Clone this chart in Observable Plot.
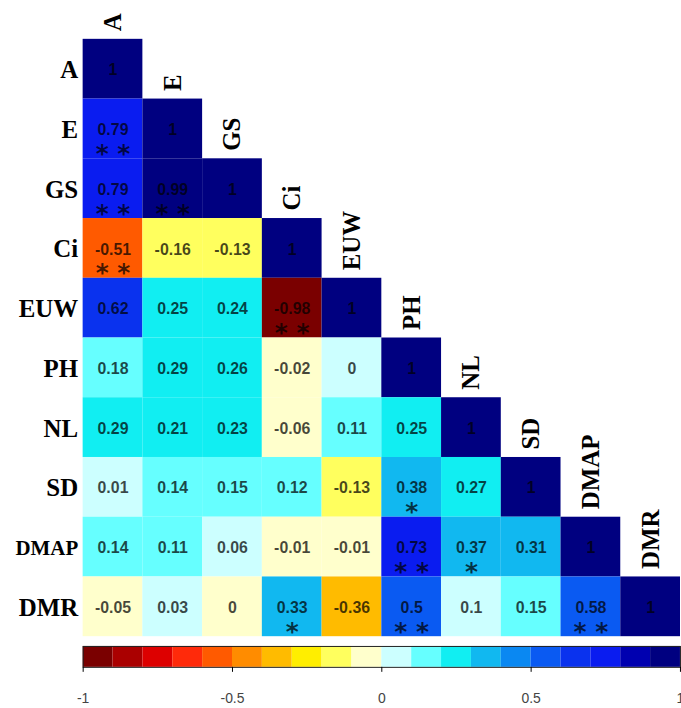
<!DOCTYPE html>
<html>
<head>
<meta charset="utf-8">
<script src="https://cdn.jsdelivr.net/npm/d3@7"></script>
<script src="https://cdn.jsdelivr.net/npm/@observablehq/plot@0.6"></script>
<style>
html, body { margin: 0; padding: 0; background: #fff; }
#wrap { width: 681px; height: 708px; overflow: hidden; background: #fff; }
#wrap svg { display: block; }
</style>
</head>
<body>
<div id="wrap"></div>
<script>
// Variables (row and column order)
const vars = ["A", "E", "GS", "Ci", "EUW", "PH", "NL", "SD", "DMAP", "DMR"];

// Lower-triangle correlations, one list per row (columns before the diagonal)
const corrA    = [];
const corrE    = [0.79];
const corrGS   = [0.79, 0.99];
const corrCi   = [-0.51, -0.16, -0.13];
const corrEUW  = [0.62, 0.25, 0.24, -0.98];
const corrPH   = [0.18, 0.29, 0.26, -0.02, 0.004];
const corrNL   = [0.29, 0.21, 0.23, -0.06, 0.11, 0.25];
const corrSD   = [0.01, 0.14, 0.15, 0.12, -0.13, 0.38, 0.27];
const corrDMAP = [0.14, 0.11, 0.06, -0.01, -0.01, 0.73, 0.37, 0.31];
const corrDMR  = [-0.05, 0.03, -0.004, 0.33, -0.36, 0.5, 0.098, 0.15, 0.58];

// Significance marks, same layout
const sigA    = [];
const sigE    = ["**"];
const sigGS   = ["**", "**"];
const sigCi   = ["**", "", ""];
const sigEUW  = ["", "", "", "**"];
const sigPH   = ["", "", "", "", ""];
const sigNL   = ["", "", "", "", "", ""];
const sigSD   = ["", "", "", "", "", "*", ""];
const sigDMAP = ["", "", "", "", "", "**", "*", ""];
const sigDMR  = ["", "", "", "*", "", "**", "", "", "**"];

const corrRows = [corrA, corrE, corrGS, corrCi, corrEUW, corrPH, corrNL, corrSD, corrDMAP, corrDMR];
const sigRows  = [sigA, sigE, sigGS, sigCi, sigEUW, sigPH, sigNL, sigSD, sigDMAP, sigDMR];

// Colour bins
const thresholds = [-0.9, -0.8, -0.7, -0.6, -0.5, -0.4, -0.3, -0.2, -0.1, 0,
                    0.1, 0.2, 0.3, 0.4, 0.5, 0.6, 0.7, 0.8, 0.9];
const palette = ["#7a0000", "#aa0000", "#dd0000", "#ff2a0a", "#ff5a00", "#ff8c00",
                 "#ffbb00", "#ffee00", "#ffff5e", "#ffffcc",
                 "#ccffff", "#66ffff", "#11eef2", "#11b8f0", "#0a88f2",
                 "#0a5af2", "#0a32ee", "#0a1cf0", "#0000b0", "#000080"];
const legendTicks = [-1, -0.5, 0, 0.5, 1];

// Build cell table
const cells = [];
vars.forEach((rv, i) => {
  corrRows[i].forEach((r, j) => {
    cells.push({row: rv, col: vars[j], r, sig: sigRows[i][j]});
  });
  cells.push({row: rv, col: rv, r: 1, sig: ""});
});
const fmt = r => String(Math.round(r * 100) / 100 + 0);

const colorScale = {type: "threshold", domain: thresholds, range: palette};

const matrix = Plot.plot({
  width: 684,
  height: 639,
  marginLeft: 83,
  marginRight: 1,
  marginTop: 39,
  marginBottom: 0,
  style: {background: "white", fontFamily: "Liberation Sans", overflow: "visible"},
  x: {domain: vars, padding: 0, axis: null},
  y: {domain: vars, padding: 0, axis: null},
  color: colorScale,
  marks: [
    Plot.cell(cells, {x: "col", y: "row", fill: "r"}),
    Plot.text(cells, {
      x: "col", y: "row", text: d => fmt(d.r),
      fontFamily: "Liberation Sans", fontWeight: "bold", fontSize: 16,
      fill: "black", fillOpacity: 0.72, dy: 1
    }),
    Plot.text(cells.filter(d => d.sig), {
      x: "col", y: "row", text: d => d.sig.split("").join(" "),
      fontFamily: "DejaVu Sans", fontWeight: "bold", fontSize: 25,
      fill: "black", fillOpacity: 0.72, dy: 25
    }),
    // row labels
    Plot.text(vars, {
      y: d => d, text: d => d, frameAnchor: "left", textAnchor: "end", dx: -5, dy: 1,
      fontFamily: "Liberation Serif", fontWeight: "bold",
      fontSize: d => d === "DMAP" ? 21 : 25, fill: "black"
    }),
    // column labels above the diagonal
    Plot.text(vars, {
      x: d => d, y: d => d, text: d => d, rotate: -90, textAnchor: "start", dy: -38,
      fontFamily: "Liberation Serif", fontWeight: "bold", fontSize: 25, fill: "black"
    })
  ]
});

const edges = [-1, ...thresholds, 1];
const bins = edges.slice(0, -1).map((lo, i) => ({lo, hi: edges[i + 1]}));

const legend = Plot.plot({
  width: 684,
  height: 69,
  marginLeft: 83,
  marginRight: 1,
  marginTop: 10,
  marginBottom: 38,
  style: {background: "transparent", fontFamily: "Liberation Sans"},
  x: {domain: [-1, 1]},
  color: colorScale,
  marks: [
    Plot.rect(bins, {x1: "lo", x2: "hi", fill: d => (d.lo + d.hi) / 2}),
    Plot.frame({stroke: "#222"}),
    Plot.axisX({
      ticks: legendTicks, tickSize: 5, tickPadding: 21,
      tickFormat: d => String(d), fontSize: 14, fill: "#444", label: null
    })
  ]
});

const wrap = document.getElementById("wrap");
wrap.appendChild(matrix);
wrap.appendChild(legend);
</script>
</body>
</html>
